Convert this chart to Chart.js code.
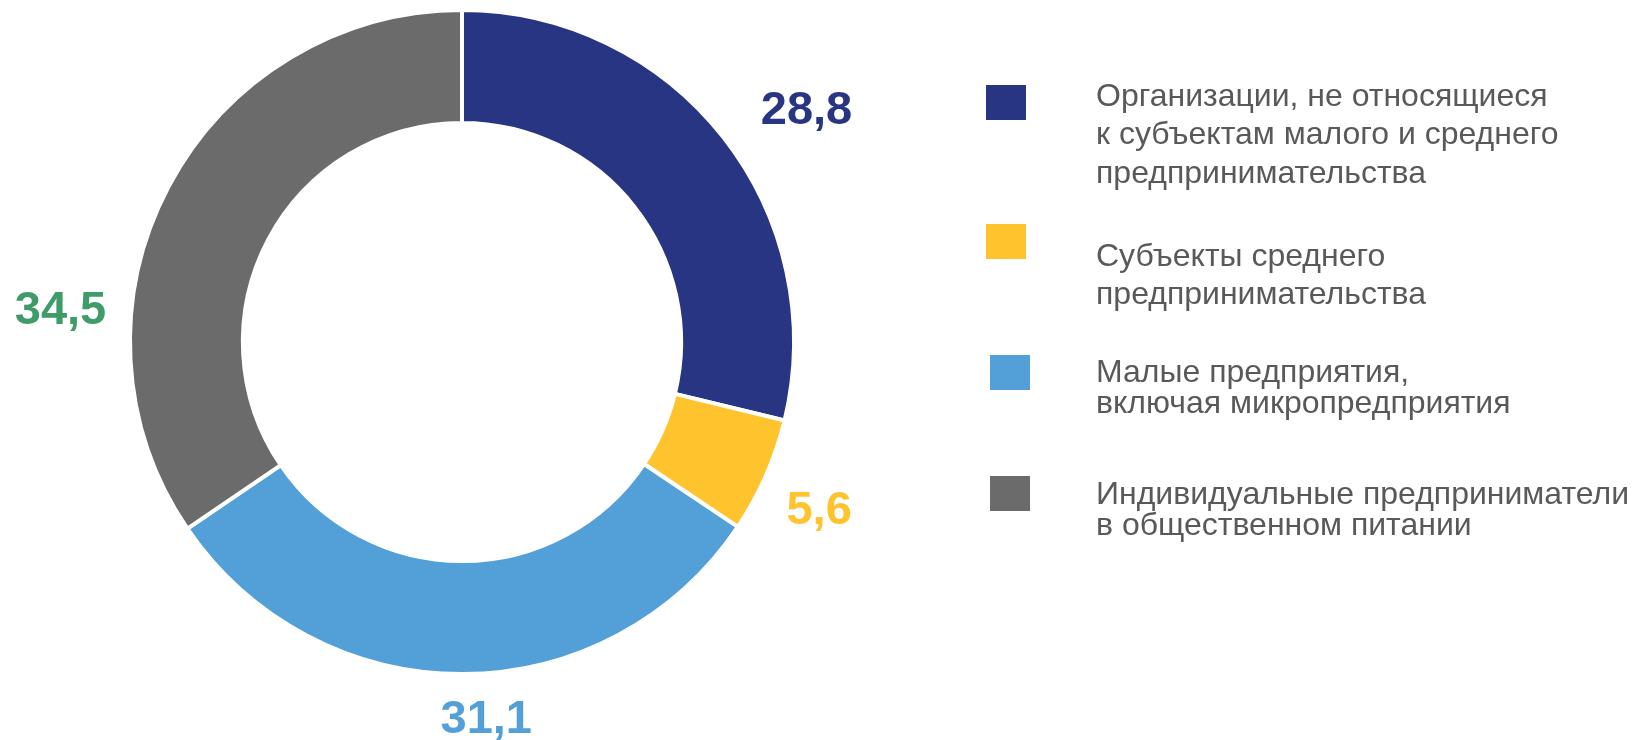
<!DOCTYPE html>
<html lang="ru">
<head>
    <meta charset="UTF-8">
    <title>Структура оборота общественного питания</title>
    <style>
        html, body { margin: 0; padding: 0; background: #fff; }
        .wrap { width: 1634px; height: 740px; position: relative; }
    </style>
</head>
<body>
<div class="wrap">
    <canvas id="donut" width="1634" height="740"></canvas>
</div>

<script src="https://cdn.jsdelivr.net/npm/chart.js@4.4.1/dist/chart.umd.min.js"></script>
<script>
// data
const categories = [
    'Организации, не относящиеся к субъектам малого и среднего предпринимательства',
    'Субъекты среднего предпринимательства',
    'Малые предприятия, включая микропредприятия',
    'Индивидуальные предприниматели в общественном питании'
];
const legendLines = [
    ['Организации, не относящиеся', 'к субъектам малого и среднего', 'предпринимательства'],
    ['Субъекты среднего', 'предпринимательства'],
    ['Малые предприятия,', 'включая микропредприятия'],
    ['Индивидуальные предприниматели', 'в общественном питании']
];
const shares = [28.8, 5.6, 31.1, 34.5];

// styles
const sliceColors = ['#283583', '#FEC32D', '#539FD7', '#6B6B6B'];
const valueColors = ['#283583', '#FEC32D', '#539FD7', '#3F9B67'];

// value label nudges from the mid-angle anchor (px)
const valueNudge = [[30, 29], [-9, 21], [23, -9], [-48, 169]];

// legend layout: square box and first text line per item
const legendBoxes = [[986, 85], [986, 224], [990, 355], [990, 476]];
const legendTextY = [97, 257, 373, 495];
const legendLineGap = [38.5, 38.5, 31, 31];
const legendTextX = 1096;

function fmt(v) {
    return v.toFixed(1).replace('.', ',');
}

const valueLabels = {
    id: 'valueLabels',
    afterDatasetsDraw(chart) {
        const ctx = chart.ctx;
        const meta = chart.getDatasetMeta(0);
        ctx.save();
        ctx.font = 'bold 47px "Liberation Sans", Arial, sans-serif';
        ctx.textAlign = 'center';
        ctx.textBaseline = 'alphabetic';
        meta.data.forEach((arc, i) => {
            const mid = (arc.startAngle + arc.endAngle) / 2;
            const r = arc.outerRadius + 68;
            const x = arc.x + Math.cos(mid) * r + valueNudge[i][0];
            const y = arc.y + Math.sin(mid) * r + valueNudge[i][1];
            ctx.fillStyle = valueColors[i];
            ctx.fillText(fmt(shares[i]), x, y);
        });
        ctx.restore();
    }
};

const sideLegend = {
    id: 'sideLegend',
    afterDraw(chart) {
        const ctx = chart.ctx;
        ctx.save();
        legendLines.forEach((lines, i) => {
            ctx.fillStyle = sliceColors[i];
            ctx.fillRect(legendBoxes[i][0], legendBoxes[i][1], 40, 35);
            ctx.fillStyle = '#595959';
            ctx.font = '32px "Liberation Sans", Arial, sans-serif';
            ctx.textAlign = 'left';
            ctx.textBaseline = 'middle';
            lines.forEach((line, j) => {
                ctx.fillText(line, legendTextX, legendTextY[i] + j * legendLineGap[i]);
            });
        });
        ctx.restore();
    }
};

new Chart(document.getElementById('donut'), {
    type: 'doughnut',
    data: {
        labels: categories,
        datasets: [{
            data: shares,
            backgroundColor: sliceColors,
            borderColor: '#ffffff',
            borderWidth: 4,
            hoverOffset: 0
        }]
    },
    options: {
        responsive: false,
        animation: false,
        cutout: '66%',
        radius: 332,
        layout: { padding: { left: 128, top: 8, right: 838, bottom: 64 } },
        plugins: {
            legend: { display: false },
            tooltip: { enabled: false }
        }
    },
    plugins: [valueLabels, sideLegend]
});
</script>
</body>
</html>
